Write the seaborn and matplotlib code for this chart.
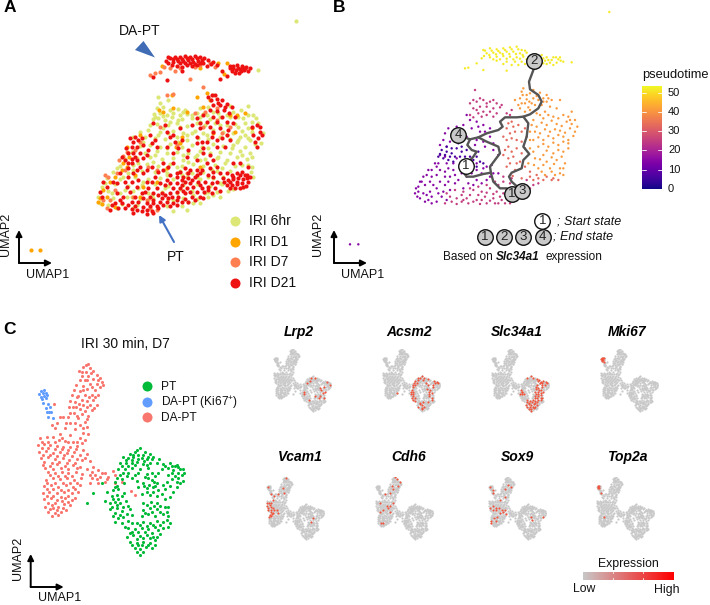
import numpy as np
import pandas as pd
import seaborn as sns
import matplotlib
matplotlib.use("Agg")
import matplotlib.pyplot as plt
from matplotlib.colors import LinearSegmentedColormap
from matplotlib.patches import Polygon

sns.set_theme(style="white")
plt.rcParams['font.family'] = ['Liberation Sans', 'DejaVu Sans']
plt.rcParams['mathtext.default'] = 'regular'

# ---------- panel A: UMAP ----------
A_6HR = [(889,62),(775,210),(475,290),(503,300),(640,285),
(470,325),(490,320),(510,330),(535,328),(555,330),(600,325),(625,320),(690,318),(745,318),
(462,342),(480,338),(500,345),(520,340),(540,345),(560,342),(590,338),(610,342),(640,335),(700,335),(722,330),
(458,358),(475,355),(495,360),(515,352),(545,358),(575,355),(600,352),(630,358),(660,350),(690,352),(715,350),(745,345),(768,355),
(470,372),(505,375),(530,370),(560,378),(590,370),(615,375),(645,368),(680,375),(705,372),(735,370),(775,370),
(420,395),(445,390),(480,395),(520,392),(550,398),(585,392),(610,398),(640,390),(670,395),(700,398),(725,392),(755,395),
(400,410),(435,412),(465,415),(495,418),(530,412),(560,420),(595,415),(625,418),(660,410),(690,418),(720,412),(750,420),(782,428),
(420,438),(450,435),(480,440),(510,432),(545,442),(575,435),(605,440),(640,432),(670,438),(700,435),(735,440),(765,432),
(395,455),(435,458),(470,452),(500,460),(530,455),(565,458),(600,452),(630,460),(660,455),(690,460),(720,452),(750,458),
(375,478),(410,475),(450,472),(485,478),(520,475),(550,480),(585,472),(615,478),(650,475),(680,480),(710,472),(740,478),
(360,498),(400,495),(440,492),(475,498),(510,492),(545,498),(580,492),(610,498),(645,495),(675,490),(705,498),(745,495),
(340,515),(385,518),(425,512),(465,515),(500,520),(540,512),(575,518),(610,515),(650,512),(690,512),(752,515),
(320,535),(360,538),(405,532),(445,538),(480,535),(520,538),(560,532),(600,538),(640,535),(670,530),
(305,560),(345,552),(385,558),(425,555),(465,552),(505,558),(550,555),(590,552),(630,558),(665,552),(700,568),(730,560),
(325,572),(360,578),(400,572),(445,578),(485,575),(530,578),(575,572),(615,578),(650,575),(685,572),
(295,590),(340,595),(380,592),(420,598),(460,595),(505,598),(550,595),(590,598),(625,592),
(325,615),(365,612),(410,615),(500,618),(545,618),(580,610),
(480,310),(465,350),(490,348),(510,365),(535,360),(550,335),(575,345),(620,345),(655,340),(680,345),(730,355),(755,365),(760,345),
(450,375),(490,385),(540,380),(575,400),(600,365),(660,375),(715,380),(745,415),(430,425),(475,405),(505,400),(535,425),(560,405),
(620,405),(680,405),(710,425),(735,405),(465,465),(500,445),(550,465),(590,465),(625,445),(655,470),(695,445),(725,465),(755,470),
(415,490),(460,485),(495,510),(530,500),(565,485),(600,480),(635,510),(665,505),(725,495),(350,505),(370,530),(400,510),(430,545),
(500,525),(545,525),(590,530),(625,530),(660,548),(315,550),(335,580),(375,570),(415,565),(455,585),(495,565),(540,568),(580,585),
(625,575),(660,590),(350,625),(395,590),(445,600),(520,600),(565,605),(600,610),(640,585),(300,610),(400,625),(520,632),(560,630),
(755,500),(760,530),(715,420),(790,400),(745,385)]

A_D1 = [(93,750),(120,750),(485,198),(655,188),(680,190),(672,222),(620,278),(478,330),(490,335),(520,325),(560,335),
(610,320),(710,345),(735,340),(705,395),(540,430),(528,440),(545,410),(380,440),(388,470),(368,490),(380,500),(365,510),
(345,530),(330,545),(310,570),(300,595),(295,605),(305,612),(320,590),(345,620),(430,560),(500,505),(470,545),(600,500),
(640,400),(690,345),(755,385),(420,590),(405,525),(590,290),(630,300),(515,285),(600,205),(420,405)]

A_D7 = [(450,225),(465,220),(480,215),(492,200),(510,205),(525,212),(540,205),(570,238),(610,262),(518,282),(500,285),
(585,200),(600,195),(630,190),(645,200),(585,340),(615,335),(650,325),(380,455),(370,468),(405,450),(358,480),(375,510),
(350,520),(315,525),(325,530),(345,570),(330,600),(310,600),(320,625),(470,630),(450,625),(420,425),(530,435),(445,500),
(480,380),(400,590),(560,520),(690,380),(440,600),(470,510),(610,380),(665,400),(650,360)]

A_D21 = [(497,182),(510,175),(525,170),(540,172),(555,168),(570,170),(585,168),(600,170),(612,175),(505,190),(520,185),
(535,183),(550,182),(565,180),(580,185),(595,182),(610,188),(625,180),(640,185),(530,197),(545,200),(560,195),(575,197),
(590,195),(620,198),(650,195),(545,212),(502,240),(460,232),(660,237),(680,228),(665,212),(690,205),(700,198),(712,195),
(725,198),(738,200),(750,205),(695,212),(708,210),(720,208),(732,210),(745,212),(705,220),(718,218),(715,203),(728,205),
(635,285),(632,300),(650,298),(665,300),(640,315),(660,315),(680,312),(695,322),(630,330),(650,332),(672,330),(688,338),
(610,345),(640,350),(665,352),(680,365),(700,370),(590,355),(575,375),(600,385),(630,380),(660,385),(685,390),
(770,375),(780,395),(760,405),(775,415),(770,440),(400,425),(415,420),(395,440),(410,440),(430,435),(385,460),(400,458),
(420,458),(375,480),(395,478),(430,475),(445,450),(465,420),(470,440),(510,410),(525,425),(500,440),(545,420),(620,425),
(635,410),(650,440),(690,420),(520,460),(610,445),(630,465),(560,470),(495,375),(460,370),(540,385),(675,440),(590,430),
(385,505),(400,520),(420,500),(440,510),(385,530),(415,540),(440,545),(465,530),(490,490),(520,490),(555,505),(590,510),
(620,490),(650,500),(680,520),(695,525),(710,520),(725,515),(740,525),(750,530),(670,535),(685,540),(700,538),(715,535),
(730,538),(745,545),(680,555),(695,555),(710,552),(725,550),(738,558),(705,565),(720,565),(490,510),(510,525),(530,520),
(550,530),(570,510),(590,525),(605,510),(625,525),(640,515),(500,540),(530,548),(555,545),(575,540),(595,545),(615,545),
(635,550),(650,545),(445,565),(470,565),(495,555),(520,565),(540,565),(560,565),(580,560),(605,565),(625,570),(645,565),
(660,572),(410,560),(425,580),(450,590),(475,585),(495,585),(515,590),(535,590),(555,580),(575,590),(600,590),(370,590),
(395,605),(415,605),(440,610),(460,610),(480,605),(500,605),(520,610),(545,605),(565,605),(355,625),(375,625),(395,628),
(410,630),(425,632),(440,630),(455,632),(475,625),(360,600),(330,630),(310,545),(320,560),(350,550),(300,575),(380,560),
(503,172),(518,178),(532,176),(547,176),(562,174),(577,176),(592,175),(607,180),(515,195),(540,190),(555,190),(570,190),
(585,192),(600,190),(632,192),(700,205),(735,205),(722,214),(690,198),
(395,490),(410,510),(430,520),(455,500),(475,515),(505,500),(540,515),(565,520),(600,520),(630,505),(660,520),(672,545),
(690,545),(720,525),(735,525),(700,530),(712,545),(728,560),(740,535),(690,565),(455,545),(480,548),(510,550),(545,555),
(570,550),(600,555),(625,560),(640,530),(530,530),(545,540),(565,535),(585,530),(435,575),(460,578),(485,578),(510,578),
(530,575),(550,572),(570,575),(590,575),(612,575),(635,578),(405,590),(430,595),(460,600),(485,595),(505,595),(530,600),
(555,598),(585,600),(610,595),(385,615),(405,618),(430,620),(450,618),(470,618),(490,615),(510,618),(530,615),(400,640),
(440,642),(460,640),(365,610),(345,608),(335,615),(305,590),(340,545),(360,520),(375,545),(395,545),(390,575),(350,580),
(390,415),(405,410),(378,445),(365,470),(385,490),(410,480),(405,470),(440,465),(455,430),(425,415),(450,405),(500,395),
(520,405),(535,445),(590,410),(605,425),(650,420),(665,415),(610,460),(680,405),(640,395),(565,450),(590,480),(640,480),
(700,490),(720,490),(745,500),(625,290),(645,285),(655,308),(675,320),(705,350),(650,365),(620,365),(600,370),(755,380),
(785,405),(765,425),(780,380)]

# ---------- panel B: pseudotime bands ----------
B_YELLOW = [(838,36),(460,150),(480,145),(500,148),(520,145),(540,142),(560,140),(575,150),(470,160),(490,158),(510,158),
(530,155),(550,155),(570,160),(590,158),(455,175),(480,172),(500,170),(520,168),(540,170),(560,172),(580,170),(500,182),
(530,185),(555,185),(575,185),(620,165),(640,175),(655,180),(670,172),(685,178),(700,185),(660,188),(680,188),(640,190),
(725,187),(650,172),(440,190),(415,203),(405,205),(460,210),(530,212),(610,205),
(465,152),(485,152),(505,153),(525,150),(545,148),(565,148),(585,152),(478,165),(498,163),(518,162),(538,162),(558,162),
(578,165),(462,168),(490,178),(510,178),(530,176),(550,178),(570,176),(590,178),(520,192),(545,195),(565,195),(585,192),
(635,165),(645,182),(665,180),(678,172),(692,182),(650,192),(670,195),(625,178),(690,172)]
B_ORANGE = [(575,275),(590,285),(610,270),(630,278),(650,285),(570,295),(590,298),(610,295),(605,310),(585,310),(625,300),
(650,305),(660,320),(645,335),(620,340),(600,330),(690,300),(680,325),(565,315),(555,300),(570,325),(610,360),(640,355),
(670,350),(700,345),(725,335),(620,380),(650,375),(680,372),(710,365),(735,360),(600,395),(630,400),(660,395),(690,392),
(720,385),(742,380),(610,420),(640,420),(670,415),(700,410),(730,408),(625,440),(655,440),(685,435),(715,430),(600,445),
(640,465),(670,460),(700,455),(615,475),(650,485),(680,480),(705,490),(595,490),(625,505),(660,505),(690,505),(700,525),
(645,525),(675,525),
(580,265),(600,280),(620,288),(640,295),(578,285),(598,305),(615,315),(635,315),(655,295),(640,305),(665,300),(595,322),
(575,310),(585,335),(630,345),(655,345),(685,355),(715,350),(720,360),(665,362),(635,368),(605,375),(695,378),(725,372),
(675,388),(645,388),(615,395),(705,398),(735,395),(625,412),(655,408),(685,405),(715,420),(600,420),(640,432),(670,428),
(700,425),(610,455),(650,452),(685,450),(715,445),(630,478),(665,472),(695,470),(640,495),(672,492),(700,505),(612,495),
(635,515),(665,515),(690,520)]
B_SALMON = [(545,365),(565,375),(530,385),(555,395),(585,385),(520,410),(545,415),(575,425),(535,440),(560,445),(585,445),
(520,465),(550,470),(570,485),(540,490),(555,510),(600,515),(620,525),(640,540),(665,540),(610,540),(685,540),
(535,370),(550,380),(575,395),(540,400),(530,420),(560,420),(590,410),(525,450),(545,455),(575,460),(535,475),(560,490),
(585,500),(530,500),(548,528),(600,530),(625,535),(650,530),(575,535),(670,535)]
B_MAGENTA = [(420,310),(440,305),(460,300),(480,305),(500,310),(515,315),(430,325),(450,320),(470,320),(490,325),(545,330),
(530,340),(435,270),(420,345),(445,340),(470,345),(490,350),(350,580),(375,570),(400,575),(430,570),(455,575),(480,565),
(500,575),(520,580),(380,595),(410,595),(440,600),(465,590),(490,595),(515,600),(540,610),(450,612),(380,612),(415,610),
(560,560),(600,565),(625,550),(520,545),(545,535),(590,540),(495,610),(470,610),
(430,300),(450,295),(470,310),(490,300),(510,322),(440,330),(460,335),(480,335),(500,340),(430,352),(455,350),(540,345),
(360,590),(365,605),(395,585),(420,585),(445,585),(470,578),(490,582),(510,590),(530,595),(395,605),(430,605),(455,600),
(480,602),(505,610),(525,610),(530,570),(550,575),(570,565),(585,555),(610,555),(540,550),(505,555),(400,600),(420,565),
(445,560),(470,555),(495,545),(520,530),(345,610)]
B_PURPLE = [(60,733),(85,733),(420,360),(400,375),(380,380),(440,365),(460,375),(480,385),(355,385),(375,400),(340,420),(360,425),
(450,395),(480,410),(435,435),(465,440),(490,450),(315,490),(295,510),(280,530),(265,560),(255,580),(270,595),(295,600),
(320,605),(285,555),(305,530),(330,510),(350,490),(380,475),(440,490),(470,500),(300,575),(325,580),(345,555),(360,530),
(385,540),(415,550),(440,540),(470,540),(490,520),(330,545),(290,585),(265,575),(275,545),(310,555),(350,600),(370,510),
(395,520),(345,470),(325,490),(425,520),(455,520),(505,520),
(410,345),(395,390),(425,385),(445,380),(465,395),(385,410),(345,400),(410,410),(440,420),(460,425),(490,430),(505,465),
(350,440),(330,435),(330,465),(305,510),(290,525),(270,545),(258,565),(262,590),(280,580),(285,605),(305,610),(305,590),
(320,565),(340,575),(355,545),(375,550),(400,565),(430,555),(455,550),(480,530),(460,505),(485,495),(440,510),(345,515),
(320,525),(345,530),(370,490),(355,505),(375,525),(410,530),(335,590),(360,570),(300,545),(320,500)]
B_DARK = [(325,470),(340,475),(355,480),(335,450),(350,455),(365,460),(380,445),(395,455),(410,450),(420,470),(375,470),
(440,470),(460,490),(440,500),(385,430),(430,480),(330,462),(345,465),(360,470),(350,440),(365,445),(390,470),(405,470),
(425,490),(450,485),(445,455),(370,485),(395,440)]
B_BANDS = [(B_YELLOW,52),(B_ORANGE,41),(B_SALMON,33),(B_MAGENTA,25),(B_PURPLE,15),(B_DARK,6)]

PATH_MAIN = [(612,182),(612,205),(597,245),(600,268),(625,285),(635,305),(625,325),(600,343),(580,350),(560,352),(525,352),
(510,365),(518,380),(505,390),(470,400),(445,412),(420,418),(385,405)]
PATH_B1 = [(445,412),(470,425),(505,440),(510,460),(495,480),(480,500),(483,520),(490,545),(510,565),(530,565),(545,580)]
PATH_B2 = [(420,418),(412,435),(425,450),(440,455),(430,470),(405,498)]
PATH_B3 = [(405,498),(395,510),(410,530),(430,530),(460,522),(483,518)]
PATH_B4 = [(580,350),(595,370),(590,410),(580,440),(598,462),(580,480),(575,505),(545,518),(537,530),(545,545),(575,572)]
NODES_GREY = [(612,182,"2"),(385,405,"4"),(545,583,"1"),(577,572,"3"),(465,710,"1"),(522,710,"2"),(580,710,"3"),(638,710,"4")]
NODES_WHITE = [(407,498,"1"),(637,663,"1")]
PT_TICKS = [0,10,20,30,40,50]
PT_MAX = 53.7

# ---------- panel C ----------
C_DAPT = [(265,162),(250,172),(270,175),(238,182),(258,185),(280,182),(245,197),(265,198),(290,195),(300,205),(280,208),
(255,210),(240,210),(305,215),(290,222),(270,222),(310,225),(248,228),(228,225),(222,240),(240,243),(262,238),(285,240),
(300,232),(215,255),(235,258),(255,255),(275,255),(295,255),(245,270),(262,272),(280,270),(225,275),(210,272),(250,285),
(270,285),(290,285),(208,292),(228,290),(240,298),(255,302),(275,300),(222,308),(245,312),(265,318),(190,320),(205,322),
(235,325),(255,335),(180,322),(170,340),(155,345),(210,340),(240,345),(262,350),(195,355),(225,358),(250,368),(265,372),
(180,372),(210,375),(240,385),(163,282),
(120,385),(140,382),(160,380),(178,390),(195,392),(220,395),(245,400),(115,405),(132,402),(150,405),(170,408),(190,410),
(210,412),(232,408),(250,420),(118,425),(138,422),(158,428),(180,425),(200,430),(222,425),(240,435),(262,432),(122,445),
(145,442),(165,448),(188,445),(208,450),(230,448),(255,445),(270,452),(128,465),(150,468),(172,462),(195,468),(218,465),
(240,470),(262,478),(280,470),(145,485),(165,490),(185,485),(205,490),(228,485),(245,492),(275,485),(295,480),(315,488),
(340,482),(138,510),(158,505),(180,508),(200,505),(222,510),(242,505),(275,505),(300,500),(325,500),(345,495),(365,515),
(132,528),(152,525),(175,530),(198,525),(218,530),(240,525),(270,520),(295,518),(315,515),(345,520),(392,542),(405,555),
(130,548),(148,545),(170,550),(192,545),(215,550),(235,545),(132,568),(152,565),(172,570),(195,565),(215,570),(225,565),
(135,590),(155,585),(175,590),(192,582),(210,585),(145,605),(165,608),(182,605),(155,618),(198,600),
(258,165),(245,185),(272,190),(293,210),(262,210),(275,232),(250,240),(230,262),(268,262),(285,262),(220,292),(238,282),
(260,292),(282,295),(210,310),(232,318),(260,328),(198,338),(165,355),(225,340),(248,355),(185,385),(205,395),(232,395),
(255,390),(125,395),(145,395),(165,395),(125,415),(145,415),(165,418),(185,418),(205,420),(228,418),(130,435),(150,435),
(172,438),(192,435),(215,438),(245,450),(132,455),(155,458),(178,455),(200,458),(225,458),(135,475),(160,478),(183,475),
(205,478),(230,475),(285,495),(305,490),(270,495),(150,495),(175,498),(195,498),(215,498),(290,508),(320,508),(140,520),
(165,518),(188,518),(210,520),(230,518),(140,538),(160,538),(182,540),(205,540),(225,538),(140,558),(160,558),(182,560),
(205,558),(145,578),(165,578),(185,572),(205,575),(150,598),(170,600),(190,595),(160,595),(175,615)]
C_KI67 = [(122,243),(132,240),(118,252),(128,250),(138,248),(122,260),(132,258),(142,255),(127,268),(138,265),(130,280),
(143,283),(138,295),(150,292),(152,305),(145,320),(160,323),(140,305),(148,306)]
C_PT = [(420,415),(405,425),(435,425),(390,432),(415,435),(450,432),(370,440),(385,445),(400,442),(425,445),(440,448),(460,440),
(478,448),(360,458),(378,460),(395,458),(410,455),(430,462),(450,458),(470,458),(490,462),(510,460),(530,465),(355,478),
(375,478),(395,475),(420,478),(445,475),(485,478),(505,475),(520,480),(540,478),(525,468),(360,495),(380,498),(405,495),
(440,492),(465,498),(505,495),(525,498),(545,495),(552,490),(345,515),(372,518),(410,512),(430,518),(455,510),(470,520),
(500,515),(530,515),(548,512),(340,540),(355,538),(415,532),(440,535),(458,532),(475,540),(495,538),(530,530),(520,545),
(335,558),(350,555),(365,558),(425,552),(450,555),(470,558),(495,568),(510,560),(330,578),(345,575),(360,578),(378,572),
(430,578),(452,575),(472,578),(315,572),(280,548),(262,578),(320,545),(305,520),(330,598),(350,595),(370,592),(390,598),
(430,600),(450,595),(470,598),(495,590),(340,618),(360,615),(380,612),(425,618),(445,612),(465,618),(490,612),(505,618),
(345,635),(365,638),(385,632),(410,640),(430,635),(450,640),(470,632),(490,635),(510,640),(385,655),(405,658),(425,655),
(445,658),(465,652),(490,655),(505,650),(382,680),(400,675),(420,678),(440,675),(460,680),(480,672),(390,695),(410,698),
(430,695),(450,698),(465,690),(405,715),(420,718),(438,712),(455,715),(415,705),(420,735),
(412,420),(398,435),(428,435),(445,440),(378,450),(395,450),(415,447),(432,452),(455,448),(365,468),(385,468),(405,465),
(440,465),(495,468),(515,468),(535,472),(368,488),(385,488),(415,490),(435,502),(455,488),(475,488),(515,488),(535,488),
(548,478),(350,505),(365,508),(395,505),(445,505),(462,515),(515,508),(535,505),(352,528),(345,530),(432,528),(448,525),
(465,528),(490,525),(510,528),(540,520),(340,568),(355,568),(372,548),(440,545),(460,545),(485,552),(335,590),(350,585),
(365,602),(385,588),(440,585),(462,588),(480,588),(505,590),(345,608),(370,622),(395,615),(435,610),(455,605),(480,605),
(500,605),(355,625),(375,650),(395,640),(420,645),(440,648),(460,645),(480,645),(500,630),(395,665),(415,665),(435,665),
(455,668),(475,660),(390,670),(410,688),(430,685),(450,685),(470,680),(395,705),(425,705),(445,705),(410,725),(430,725),(465,705)]

C_LEGEND = ["PT","DA-PT (Ki67$^{+}$)","DA-PT"]
C_COLOURS = ["#00BA38","#619CFF","#F8766D"]

# ---------- feature maps: expressing cells ----------
GENES = ["Lrp2","Acsm2","Slc34a1","Mki67","Vcam1","Cdh6","Sox9","Top2a"]
EXPR = {
"Lrp2":[(405,425),(435,425),(395,458),(370,478),(525,468),(545,495),(500,515),(470,520),(475,540),(345,558),(345,575),(495,568),(510,560),(470,598),(505,618),(465,618),(385,632),(430,600)],
"Acsm2":[(420,415),(405,425),(435,425),(390,432),(385,445),(425,445),(460,440),(360,458),(510,460),(530,465),(355,478),(375,478),(445,475),(520,480),(540,478),(360,495),(465,498),(505,495),(345,515),(500,515),(340,540),(458,532),(475,540),(335,558),(350,555),(470,558),(495,568),(330,578),(345,575),(472,578),(350,595),(470,598),(340,618),(360,615),(490,612),(345,635),(365,638),(490,635),(405,658),(425,655),(465,652),(400,675),(420,678),(390,695),(430,695),(420,718),(415,705),(225,565),(345,495)],
"Slc34a1":[(420,415),(435,425),(390,432),(460,440),(478,448),(470,458),(490,462),(510,460),(530,465),(505,475),(540,478),(485,478),(465,498),(505,495),(525,498),(455,510),(470,520),(500,515),(455,532),(475,540),(495,538),(450,555),(470,558),(495,568),(510,560),(345,558),(350,555),(340,540),(345,575),(360,578),(330,578),(452,575),(472,578),(450,595),(470,598),(495,590),(445,612),(465,618),(490,612),(505,618),(430,635),(450,640),(470,632),(490,635),(385,632),(410,640),(385,655),(405,658),(425,655),(445,658),(465,652),(382,680),(400,675),(420,678),(440,675),(460,680),(390,695),(410,698),(430,695),(450,698),(405,715),(420,718),(438,712),(420,735)],
"Mki67":[(122,243),(132,240),(118,252),(128,250),(138,248),(122,260),(132,258),(127,268),(143,283)],
"Vcam1":[(115,405),(132,402),(150,405),(118,425),(138,422),(122,445),(145,442),(165,448),(128,465),(172,462),(150,468),(195,468),(145,485),(165,490),(205,490),(138,510),(158,505),(132,528),(152,525),(240,258),(205,322),(170,340),(245,312),(128,250),(145,320),(262,172),(470,540),(452,575),(165,375)],
"Cdh6":[(265,162),(280,182),(300,205),(285,240),(240,243),(222,308),(245,270),(190,320),(150,405),(222,425),(200,430),(208,450),(145,485),(228,485),(172,462),(175,590),(155,585),(245,400)],
"Sox9":[(128,250),(145,283),(152,305),(262,238),(240,275),(290,255),(240,345),(205,375),(150,425),(170,445),(195,445),(218,465),(125,445),(150,468),(240,470),(172,462),(205,490),(228,485),(245,505),(180,530),(155,545),(135,568),(135,590),(175,570),(440,535),(445,555),(530,530)],
"Top2a":[(122,243),(132,240),(128,250),(122,260),(132,258),(150,305),(175,530)],
}
MINI_BOXES = {"Lrp2":(273,349),"Acsm2":(382,349),"Slc34a1":(491,349),"Mki67":(600,349),
              "Vcam1":(266,477),"Cdh6":(375,477),"Sox9":(488,477),"Top2a":(596,477)}
MINI_TITLES = {"Lrp2":(299,332),"Acsm2":(409,332),"Slc34a1":(517,332),"Mki67":(627,332),
               "Vcam1":(300,457),"Cdh6":(409,457),"Sox9":(517,457),"Top2a":(627,457)}

A_LEGEND = ["IRI 6hr","IRI D1","IRI D7","IRI D21"]
A_COLOURS = ["#DCE775","#FFA500","#FF7F50","#EE1111"]

# ---------- layout helpers ----------
W, H = 710, 605
fig = plt.figure(figsize=(W/100, H/100), dpi=100)

def panel(x0, y0, x1, y1, xlim, ylim):
    ax = fig.add_axes([x0/W, 1-y1/H, (x1-x0)/W, (y1-y0)/H])
    ax.set_xlim(*xlim); ax.set_ylim(*ylim); ax.axis("off")
    ax.patch.set_alpha(0)
    return ax

def scatter(ax, pts, color, s, marker="o"):
    a = np.array(pts)
    sns.scatterplot(x=a[:,0], y=a[:,1], color=color, s=s, linewidth=0, ax=ax, legend=False, marker=marker)

def path(ax, pts):
    a = np.array(pts)
    sns.lineplot(x=a[:,0], y=a[:,1], sort=False, estimator=None, color="#555555", lw=1.7, ax=ax, legend=False)

ov = panel(0, 0, W, H, (0, W), (H, 0))
ov.set_zorder(10)

def umap_axes(x, y):
    for dx, dy in [(0, -33), (33, 0)]:
        ov.annotate("", xy=(x+dx, y+dy), xytext=(x, y),
                    arrowprops=dict(arrowstyle="-|>", color="black", lw=1.4, shrinkA=0, shrinkB=0, mutation_scale=9))

def txt(x, y, s, size=10, ha="center", **kw):
    ov.text(x, y, s, fontsize=size, ha=ha, va="center", color=kw.pop("color", "#111111"), **kw)

# panel letters
for s, x, y in [("A", 9.5, 8), ("B", 339, 8), ("C", 9.5, 329)]:
    txt(x, y, s, size=12.5, fontweight="bold", color="black")

# ---------- A ----------
ax_a = panel(0, 0, 320, 300, (0, 960), (900, 0))
for pts, c in zip([A_6HR, A_D1, A_D7, A_D21], A_COLOURS):
    scatter(ax_a, pts, c, 9)
txt(140, 31, "DA-PT")
txt(176, 257, "PT")
ov.add_patch(Polygon([(135, 50), (143.5, 41), (155, 57.5)], closed=True, fc="#3F6CB5", ec="none"))
ov.annotate("", xy=(159, 215), xytext=(174, 242),
            arrowprops=dict(arrowstyle="-|>", color="#4472C4", lw=1.5, shrinkA=0, shrinkB=0, mutation_scale=9))
for lab, c, y in zip(A_LEGEND, A_COLOURS, [221, 241.5, 262, 283]):
    scatter(ov, [(235, y)], c, 52)
    txt(249, y, lab, ha="left")
umap_axes(19, 263)
txt(6, 234, "UMAP2", size=9, rotation=90)
txt(48, 275, "UMAP1", size=9)

# ---------- B ----------
ax_b = panel(330, 0, 710, 300, (0, 1140), (900, 0))
rows = [(x, y, t) for pts, t in B_BANDS for x, y in pts]
df_b = pd.DataFrame(rows, columns=["x", "y", "pseudotime"])
sns.scatterplot(data=df_b, x="x", y="y", hue="pseudotime", palette="plasma", hue_norm=(0, PT_MAX),
                s=3, linewidth=0, legend=False, ax=ax_b)
ax_b.set_xlim(0, 1140); ax_b.set_ylim(900, 0); ax_b.axis("off")
for p in [PATH_MAIN, PATH_B1, PATH_B2, PATH_B3, PATH_B4]:
    path(ax_b, p)
ax_b.set_xlim(0, 1140); ax_b.set_ylim(900, 0); ax_b.axis("off")
for nodes, fc in [(NODES_GREY, "#C9C9C9"), (NODES_WHITE, "white")]:
    for x, y, lab in nodes:
        ax_b.scatter([x], [y], s=125, facecolor=fc, edgecolor="#111111", linewidth=1.0, zorder=5)
        ax_b.text(x, y, lab, fontsize=9.5, ha="center", va="center", zorder=6, color="#222222")
txt(330+682/3, 663/3, "; Start state", size=9, ha="left", style="italic")
txt(330+670/3, 710/3, "; End state", size=9, ha="left", style="italic")
txt(330+338/3, 772/3, "Based on", size=8.5, ha="left")
txt(330+498/3, 772/3, "Slc34a1", size=8.5, ha="left", style="italic", fontweight="bold")
txt(330+648/3, 772/3, "expression", size=8.5, ha="left")
umap_axes(334, 263)
txt(318, 234, "UMAP2", size=9, rotation=90)
txt(363, 275, "UMAP1", size=9)

# pseudotime colour bar
cb = panel(642.3, 86, 662.3, 188.7, (0, 1), (0, PT_MAX))
cb.imshow(np.linspace(PT_MAX, 0, 256)[:, None], cmap="plasma", vmin=0, vmax=PT_MAX,
          extent=(0, 1, 0, PT_MAX), aspect="auto")
for t in PT_TICKS:
    cb.plot([0, .2], [t, t], color="white", lw=.6)
    cb.plot([.8, 1], [t, t], color="white", lw=.6)
    txt(668, 188.7-(t/PT_MAX)*102.7, str(t), size=8, ha="left")
txt(642, 75, "pseudotime", size=9.3, ha="left")

# ---------- C ----------
ax_c = panel(0, 310, 260, 605, (0, 780), (885, 0))
scatter(ax_c, C_DAPT, C_COLOURS[2], 5)
scatter(ax_c, C_KI67, C_COLOURS[1], 5)
scatter(ax_c, C_PT, C_COLOURS[0], 5)
txt(125, 343.5, "IRI 30 min, D7")
for lab, c, y in zip(C_LEGEND, C_COLOURS, [386, 401.7, 417.3]):
    scatter(ov, [(147, y)], c, 52)
    txt(161, y+.5, lab, size=8.6, ha="left")
umap_axes(30.7, 587)
txt(18, 558, "UMAP2", size=9, rotation=90)
txt(60, 598, "UMAP1", size=9)

# ---------- feature maps ----------
for g in GENES:
    x0, y0 = MINI_BOXES[g]
    ax = panel(x0, y0, x0+58, y0+62.5, (110, 555), (740, 160))
    scatter(ax, C_DAPT + C_KI67 + C_PT, "#C8C8C8", 2.5)
    scatter(ax, EXPR[g], "#F4533A", 2.2)
    ax.set_xlim(110, 555); ax.set_ylim(740, 160); ax.axis("off")
    tx, ty = MINI_TITLES[g]
    txt(tx, ty, g, size=10, style="italic", fontweight="bold", color="black")

# expression colour bar
cmap = LinearSegmentedColormap.from_list("expr", ["#C8C8C8", "#FF0000"])
eb = panel(582.7, 571.7, 673.3, 580, (0, 1), (0, 1))
eb.imshow(np.linspace(0, 1, 256)[None, :], cmap=cmap, extent=(0, 1, 0, 1), aspect="auto")
for t in [1/3, 2/3]:
    eb.plot([t, t], [0, .2], color="white", lw=.6)
    eb.plot([t, t], [.8, 1], color="white", lw=.6)
txt(628, 563.5, "Expression", size=8.8)
txt(584, 588.5, "Low", size=8.8)
txt(667, 590, "High", size=8.8)

fig.savefig("out.png", dpi=100)
